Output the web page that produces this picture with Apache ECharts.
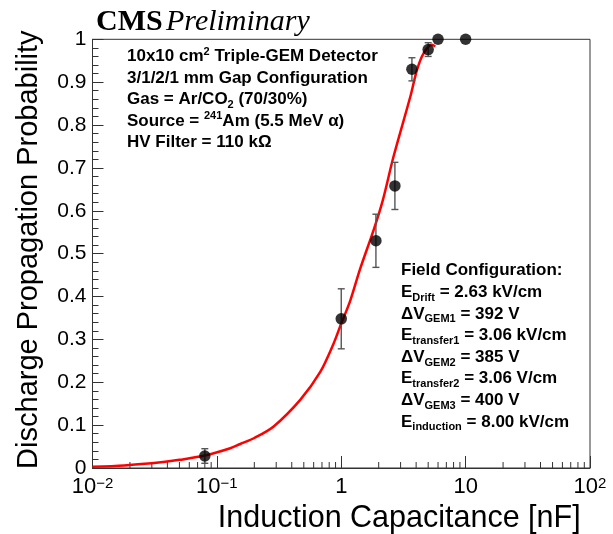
<!DOCTYPE html>
<html>
<head>
<meta charset="utf-8">
<script src="https://cdn.jsdelivr.net/npm/echarts@6/dist/echarts.min.js"></script>
<style>
html,body{margin:0;padding:0;background:#fff;}
#chart{width:613px;height:534px;}
</style>
</head>
<body>
<div id="chart"></div>
<script>
// ---- data ----
var capacitance = [0.08, 1.0, 1.9, 2.7, 3.7, 5.0, 6.0, 10.0];
var probability = [0.028, 0.348, 0.530, 0.658, 0.930, 0.976, 1.0, 1.0];
var probError   = [0.017, 0.070, 0.062, 0.055, 0.027, 0.016, 0.0, 0.0];

var fitX = [0.01, 0.018, 0.037, 0.05, 0.08, 0.128, 0.154, 0.2, 0.286, 0.468, 0.678, 0.867, 1.0, 1.18, 1.42, 1.82, 2.16, 2.63, 3.59, 4.06, 4.59, 5.36, 5.7];
var fitY = [0.003, 0.006, 0.014, 0.019, 0.029, 0.046, 0.056, 0.07, 0.097, 0.159, 0.224, 0.29, 0.337, 0.39, 0.465, 0.555, 0.625, 0.726, 0.866, 0.928, 0.967, 0.987, 0.983];

var xMinorTicks = [0.02,0.03,0.04,0.05,0.06,0.07,0.08,0.09,
                   0.2,0.3,0.4,0.5,0.6,0.7,0.8,0.9,
                   2,3,4,5,6,7,8,9,
                   20,30,40,50,60,70,80,90];
var xTickLabels = {'-2':'10{sup|\u22122}', '-1':'10{sup|\u22121}', '0':'1', '1':'10', '2':'10{sup|2}'};

var infoLines = [
  '10x10 cm{sup|2} Triple-GEM Detector',
  '3/1/2/1 mm Gap Configuration',
  'Gas = Ar/CO{sub|2} (70/30%)',
  'Source = {sup|241}Am (5.5 MeV \u03b1)',
  'HV Filter = 110 k\u03a9'
];
var fieldLines = [
  'Field Configuration:',
  'E{sub|Drift} = 2.63 kV/cm',
  '\u0394V{sub|GEM1} = 392 V',
  'E{sub|transfer1} = 3.06 kV/cm',
  '\u0394V{sub|GEM2} = 385 V',
  'E{sub|transfer2} = 3.06 V/cm',
  '\u0394V{sub|GEM3} = 400 V',
  'E{sub|induction} = 8.00 kV/cm'
];

// ---- build ----
var pts = capacitance.map(function(c,i){return [c, probability[i]];});
var errs = capacitance.map(function(c,i){return [c, probability[i], probError[i]];});
var fit = fitX.map(function(x,i){return [x, fitY[i]];});
var minor = xMinorTicks.map(function(x){return [x, 0];});

var FONT = "'Liberation Sans', Arial, Helvetica, sans-serif";
var SERIF = "'Liberation Serif', 'Times New Roman', serif";

var subSup = {
  sub: {fontSize: 11, fontWeight: 'bold', fontFamily: FONT, verticalAlign: 'bottom', lineHeight: 11, color:'#000'},
  sup: {fontSize: 11, fontWeight: 'bold', fontFamily: FONT, verticalAlign: 'top', lineHeight: 11, color:'#000'}
};

var chart = echarts.init(document.getElementById('chart'), null, {renderer:'canvas'});
var option = {
  animation: false,
  backgroundColor: '#fff',
  grid: {left: 92.5, right: 23, top: 39.3, bottom: 66, show: true, borderColor: '#333', borderWidth: 1,
         backgroundColor: 'transparent', containLabel: false, outerBoundsMode: 'none'},
  xAxis: {
    type: 'log', logBase: 10, min: 0.01, max: 100,
    axisLine: {show: true, lineStyle: {color: '#333', width: 1}},
    axisTick: {show: true, inside: true, length: 12, lineStyle: {color: '#333'}},
    splitLine: {show: false},
    axisLabel: {
      margin: 8, color: '#000', fontSize: 22, fontFamily: FONT,
      formatter: function(v){ var e = Math.round(Math.log(v)/Math.LN10); return xTickLabels[String(e)]; },
      rich: {sup: {fontSize: 15, fontFamily: FONT, verticalAlign: 'top', lineHeight: 14, color:'#000'}}
    },
    name: 'Induction Capacitance [nF]',
    nameLocation: 'middle', nameGap: 35,
    nameTextStyle: {fontSize: 30.5, fontFamily: FONT, color: '#000', padding: [0,0,0,116]}
  },
  yAxis: {
    type: 'value', min: 0, max: 1, interval: 0.1,
    axisLine: {show: true, lineStyle: {color: '#333', width: 1}},
    axisTick: {show: true, inside: true, length: 11, lineStyle: {color: '#333'}},
    minorTick: {show: true, splitNumber: 5, length: 6, lineStyle: {color: '#333'}},
    splitLine: {show: false},
    axisLabel: {
      margin: 6, color: '#000', fontSize: 21, fontFamily: FONT,
      formatter: function(v){ if (Math.abs(v) < 1e-9) return '0'; if (Math.abs(v-1) < 1e-9) return '1'; return v.toFixed(1); }
    },
    name: 'Discharge Propagation Probability',
    nameLocation: 'middle', nameGap: 49, nameRotate: 90,
    nameTextStyle: {fontSize: 29, fontFamily: FONT, color: '#000', padding: [0,0,0,8]}
  },
  series: [
    {
      type: 'custom', name: 'minorTicks', data: minor, silent: true, z: 3,
      renderItem: function(params, api){
        var p = api.coord([api.value(0), 0]);
        return {type: 'line', shape: {x1: p[0], y1: p[1], x2: p[0], y2: p[1]-6}, style: {stroke: '#333', lineWidth: 1}};
      }
    },
    {
      type: 'line', name: 'fit', data: fit, smooth: 0.3, showSymbol: false, symbol: 'none',
      lineStyle: {color: '#ff0000', width: 2.5}, z: 4, silent: true
    },
    {
      type: 'custom', name: 'errors', data: errs, z: 5, silent: true,
      renderItem: function(params, api){
        var x = api.value(0), y = api.value(1), e = api.value(2);
        if (e <= 0) return {type: 'group', children: []};
        var lo = api.coord([x, y - e]), hi = api.coord([x, y + e]);
        var st = {stroke: '#555', lineWidth: 1.4};
        return {type: 'group', children: [
          {type: 'line', shape: {x1: lo[0], y1: lo[1], x2: hi[0], y2: hi[1]}, style: st},
          {type: 'line', shape: {x1: lo[0]-3.5, y1: lo[1], x2: lo[0]+3.5, y2: lo[1]}, style: st},
          {type: 'line', shape: {x1: hi[0]-3.5, y1: hi[1], x2: hi[0]+3.5, y2: hi[1]}, style: st}
        ]};
      }
    },
    {
      type: 'scatter', name: 'data', data: pts, symbol: 'circle', symbolSize: 11.5,
      itemStyle: {color: '#000'}, z: 6, clip: false
    }
  ],
  graphic: [
    {type: 'text', left: 96, top: 7, z: 10, style: {
      text: '{b|CMS} {i|Preliminary}',
      rich: {b: {fontFamily: SERIF, fontWeight: 'bold', fontSize: 30, color: '#000'},
             i: {fontFamily: SERIF, fontStyle: 'italic', fontSize: 30, color: '#000'}}
    }},
    {type: 'text', left: 127, top: 46, z: 10, style: {
      text: infoLines.join('\n'), fontFamily: FONT, fontWeight: 'bold', fontSize: 17, lineHeight: 21.5, fill: '#000', rich: subSup
    }},
    {type: 'text', left: 401, top: 260, z: 10, style: {
      text: fieldLines.join('\n'), fontFamily: FONT, fontWeight: 'bold', fontSize: 17, lineHeight: 21.6, fill: '#000', rich: subSup
    }}
  ]
};
chart.setOption(option);
</script>
</body>
</html>
